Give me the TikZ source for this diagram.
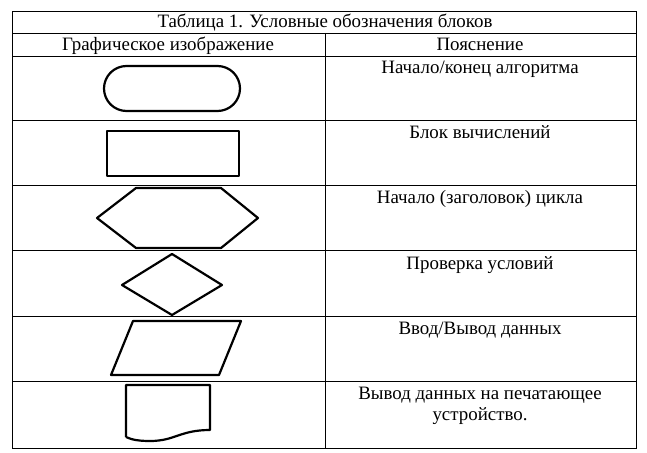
\documentclass[tikz,border=0pt]{standalone}
\usepackage{fontspec}
\setmainfont{Liberation Serif}
\begin{document}
\begin{tikzpicture}[x=1pt,y=-1pt,
  grid/.style={line width=0.9pt},
  shp/.style={line width=2.2pt,line join=round},
  txt/.style={font=\fontsize{18.9}{22}\selectfont,anchor=base,align=center}]
\useasboundingbox (0,0) rectangle (647,452);
\fill[white] (0,0) rectangle (647,452);
% table
\draw[grid] (12,11) rectangle (636,448);
\foreach \y in {33,56,120,185,250,316,381} \draw[grid] (12,\y) -- (636,\y);
\draw[grid] (325,33) -- (325,448);
\node[txt] (title) at (325,28) {Таблица 1. Условные обозначения блоков};
\node[txt] (h1) at (168,51) {Графическое изображение};
\node[txt] (h2) at (480,51) {Пояснение};
\node[txt] (t1) at (480,74) {Начало/конец алгоритма};
\node[txt] (t2) at (480,138) {Блок вычислений};
\node[txt] (t3) at (480,203) {Начало (заголовок) цикла};
\node[txt] (t4) at (480,269) {Проверка условий};
\node[txt] (t5) at (480,334) {Ввод/Вывод данных};
\node[txt] (t6) at (480,399) {Вывод данных на печатающее};
\node[txt] (t6b) at (480,420) {устройство.};
% shapes
\draw[shp,rounded corners=22.5pt] (104,66) rectangle (240,111);
\draw[shp] (107,131) rectangle (239,176);
\draw[shp] (97,218) -- (136,188) -- (221,188) -- (258,218) -- (221,248) -- (136,248) -- cycle;
\draw[shp] (172,254) -- (222,285) -- (172,315) -- (122,285) -- cycle;
\draw[shp] (111,375) -- (133,321) -- (241,321) -- (219,375) -- cycle;
\draw[shp] (126,437) -- (126,385) -- (210,385) -- (210,430) .. controls (180,430) and (175,441) .. (150,441) .. controls (140,441) and (132,440) .. (126,437);
\end{tikzpicture}
\end{document}
